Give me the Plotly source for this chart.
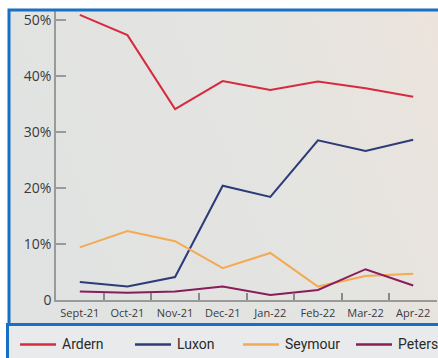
import base64
import plotly.graph_objects as go

# Monthly preferred-PM polling, percent
months = ["Sept-21", "Oct-21", "Nov-21", "Dec-21", "Jan-22", "Feb-22", "Mar-22", "Apr-22"]
ardern = [50.9, 47.3, 34.1, 39.1, 37.5, 39.0, 37.8, 36.3]
luxon = [3.2, 2.4, 4.1, 20.4, 18.4, 28.5, 26.6, 28.6]
seymour = [9.4, 12.3, 10.5, 5.7, 8.4, 2.4, 4.3, 4.7]
peters = [1.5, 1.3, 1.5, 2.4, 0.9, 1.8, 5.5, 2.6]

y_ticks = [0, 10, 20, 30, 40, 50]
y_tick_text = ["0", "10%", "20%", "30%", "40%", "50%"]

series = [
    ("Ardern", ardern, "#d62b3e"),
    ("Luxon", luxon, "#2d3b78"),
    ("Seymour", seymour, "#f3aa52"),
    ("Peters", peters, "#8a1c5a"),
]

W, H = 438, 358
L, R, T, B = 56, 1, 10, 57.5
PW, PH = W - L - R, H - T - B


def px(x):
    return (x - L) / PW


def py(y):
    return (H - B - y) / PH


fig = go.Figure()
for name, vals, col in series:
    fig.add_trace(go.Scatter(x=months, y=vals, name=name, mode="lines",
                             line=dict(color=col, width=2), showlegend=False))

# soft grey-to-warm background panel
svg = ('<svg xmlns="http://www.w3.org/2000/svg" width="100" height="100" preserveAspectRatio="none">'
       '<defs><linearGradient id="g" x1="0" y1="0.3" x2="1" y2="0">'
       '<stop offset="0" stop-color="#e1e3e2"/><stop offset="0.55" stop-color="#e4e4e1"/>'
       '<stop offset="1" stop-color="#ece3dc"/></linearGradient></defs>'
       '<rect width="100" height="100" fill="url(#g)"/></svg>')
src = "data:image/svg+xml;base64," + base64.b64encode(svg.encode()).decode()
fig.add_layout_image(dict(source=src, xref="paper", yref="paper",
                          x=px(9), y=py(10), sizex=(W - 9) / PW, sizey=(325 - 10) / PH,
                          xanchor="left", yanchor="top", sizing="stretch", layer="below"))

blue = "#1670c4"
shapes = [
    # chart frame
    dict(type="rect", xref="paper", yref="paper", x0=px(9), x1=px(W + 10),
         y0=py(325), y1=py(10), line=dict(color=blue, width=3), layer="above"),
    # legend strip
    dict(type="rect", xref="paper", yref="paper", x0=px(7.5), x1=px(W + 10),
         y0=py(H + 10), y1=py(325), fillcolor="#e8eaeb",
         line=dict(color=blue, width=3), layer="below"),
]

# legend row: swatch line + label per series
legend_x = [20, 135, 243, 356]
legend_y = 345
annotations = []
for (name, _, col), lx in zip(series, legend_x):
    shapes.append(dict(type="line", xref="paper", yref="paper",
                       x0=px(lx), x1=px(lx + 36), y0=py(legend_y), y1=py(legend_y),
                       line=dict(color=col, width=2.5), layer="above"))
    annotations.append(dict(text=name, xref="paper", yref="paper",
                            x=px(lx + 40), y=py(legend_y), xanchor="left", yanchor="middle",
                            showarrow=False,
                            font=dict(family="Roboto", size=14, color="#2a2a2a")))

fig.update_layout(
    width=W, height=H,
    margin=dict(l=L, r=R, t=T, b=B, autoexpand=False),
    paper_bgcolor="white",
    plot_bgcolor="rgba(0,0,0,0)",
    shapes=shapes,
    annotations=annotations,
    showlegend=False,
    xaxis=dict(type="category", range=[-0.5, 7.5], showgrid=False, zeroline=False,
               showline=True, linecolor="#9a9a9a", linewidth=1.5,
               ticks="inside", ticklen=7, tickwidth=1.5, tickcolor="#8a8a8a",
               tickson="boundaries", tickangle=0, ticklabelstandoff=2,
               tickfont=dict(family="Open Sans", size=11, color="#3a3a3a")),
    yaxis=dict(range=[0, 290.5 / 5.61], showgrid=False, zeroline=False,
               showline=True, linecolor="#9a9a9a", linewidth=1.5,
               ticks="inside", ticklen=10, tickwidth=1.5, tickcolor="#9a9a9a",
               tickvals=y_ticks, ticktext=y_tick_text,
               tickfont=dict(family="Open Sans", size=14, color="#3a3a3a")),
)

fig.write_html("out.html")
